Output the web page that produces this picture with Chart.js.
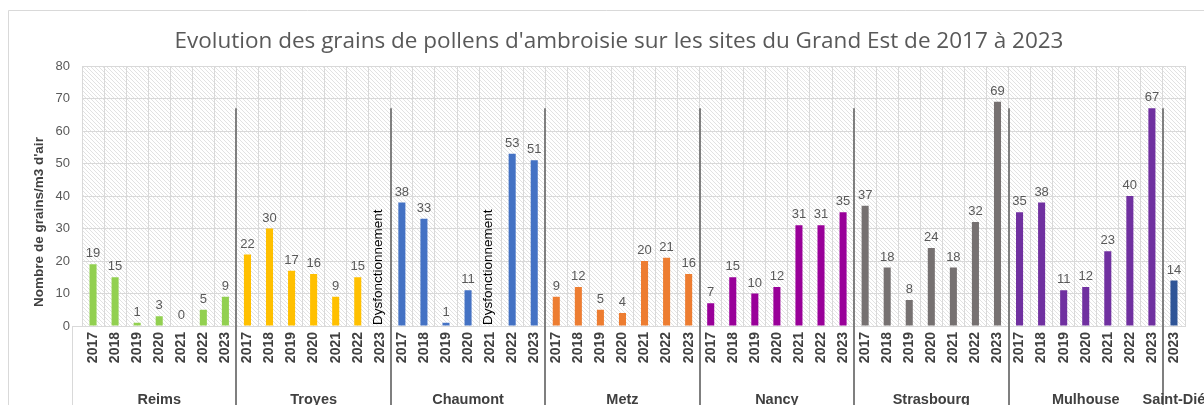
<!DOCTYPE html>
<html>
<head>
<meta charset="utf-8">
<script src="https://cdn.jsdelivr.net/npm/chart.js@4/dist/chart.umd.min.js"></script>
<style>
  html, body { margin: 0; padding: 0; background: #fff; }
  #wrap { width: 1204px; height: 405px; position: relative; }
</style>
</head>
<body>
<div id="wrap"><canvas id="myChart" width="1204" height="405"></canvas></div>
<script>
// Values (null = no measure)
var sites = ['Reims', 'Troyes', 'Chaumont', 'Metz', 'Nancy', 'Strasbourg', 'Mulhouse', 'Saint-Dié'];
var years = ['2017', '2018', '2019', '2020', '2021', '2022', '2023'];
var reims = [19, 15, 1, 3, 0, 5, 9];
var troyes = [22, 30, 17, 16, 9, 15, null];
var chaumont = [38, 33, 1, 11, null, 53, 51];
var metz = [9, 12, 5, 4, 20, 21, 16];
var nancy = [7, 15, 10, 12, 31, 31, 35];
var strasbourg = [37, 18, 8, 24, 18, 32, 69];
var mulhouse = [35, 38, 11, 12, 23, 40, 67];
var saintDieYears = ['2023'];
var saintDie = [14];
var siteColors = ['#92D050', '#FFC000', '#4472C4', '#ED7D31', '#990099', '#767171', '#7030A0', '#2F5597'];
var titleText = "Evolution des grains de pollens d'ambroisie sur les sites du Grand Est de 2017 à 2023";
var yTitle = "Nombre de grains/m3 d'air";

var siteYears = [years, years, years, years, years, years, years, saintDieYears];
var siteValues = [reims, troyes, chaumont, metz, nancy, strasbourg, mulhouse, saintDie];

// flatten to one category axis
var labels = [], values = [], colors = [];
siteValues.forEach(function(vals, s) {
    vals.forEach(function(v, i) {
        labels.push(siteYears[s][i]);
        values.push(v);
        colors.push(siteColors[s]);
    });
});

// hatched background of the plot area
function makeHatch() {
    var c = document.createElement('canvas');
    c.width = 4; c.height = 4;
    var g = c.getContext('2d');
    g.fillStyle = '#ffffff';
    g.fillRect(0, 0, 4, 4);
    g.fillStyle = '#e2e2e2';
    for (var i = 0; i < 4; i++) g.fillRect(i, i, 1, 1);
    return g.createPattern(c, 'repeat');
}

var decor = {
    id: 'decor',
    beforeDraw: function(chart) {
        var ctx = chart.ctx, a = chart.chartArea;
        ctx.save();
        ctx.fillStyle = '#fff';
        ctx.fillRect(0, 0, chart.width, chart.height);
        ctx.fillStyle = makeHatch();
        ctx.fillRect(a.left, a.top, a.right - a.left, a.bottom - a.top);
        // outer frame
        ctx.strokeStyle = '#d9d9d9';
        ctx.lineWidth = 1;
        ctx.beginPath();
        ctx.moveTo(8.5, chart.height);
        ctx.lineTo(8.5, 10.5);
        ctx.lineTo(chart.width, 10.5);
        ctx.stroke();
        // title
        ctx.fillStyle = '#595959';
        ctx.font = '22.5px "Open Sans"';
        ctx.textAlign = 'center';
        ctx.textBaseline = 'middle';
        ctx.fillText(titleText, 619, 42);
        // y axis title
        ctx.translate(39, 222);
        ctx.rotate(-Math.PI / 2);
        ctx.fillStyle = '#404040';
        ctx.font = 'bold 13.5px "Liberation Sans"';
        ctx.fillText(yTitle, 0, 0);
        ctx.restore();
    },
    afterDraw: function(chart) {
        var ctx = chart.ctx, x = chart.scales.x, y = chart.scales.y;
        var meta = chart.getDatasetMeta(0);
        var half = (x.getPixelForValue(1) - x.getPixelForValue(0)) / 2;
        ctx.save();
        // value labels and missing measures
        meta.data.forEach(function(bar, i) {
            var v = values[i];
            if (v === null) {
                ctx.save();
                ctx.translate(bar.x + 5, y.getPixelForValue(0) - 1);
                ctx.rotate(-Math.PI / 2);
                ctx.fillStyle = '#000';
                ctx.font = '13.5px "Liberation Sans"';
                ctx.textAlign = 'left';
                ctx.fillText('Dysfonctionnement', 0, 0);
                ctx.restore();
                return;
            }
            ctx.fillStyle = '#595959';
            ctx.font = '13px "Liberation Sans"';
            ctx.textAlign = 'center';
            ctx.textBaseline = 'bottom';
            ctx.fillText(String(v), bar.x, y.getPixelForValue(v) - 4);
        });
        // site separators and names
        var start = 0;
        ctx.font = 'bold 14.5px "Liberation Sans"';
        ctx.fillStyle = '#404040';
        ctx.textAlign = 'center';
        ctx.textBaseline = 'alphabetic';
        siteValues.forEach(function(vals, s) {
            var x0 = x.getPixelForValue(start) - half;
            var x1 = x.getPixelForValue(start + vals.length - 1) + half;
            ctx.fillText(sites[s], (x0 + x1) / 2, 404);
            if (s < siteValues.length - 1) {
                ctx.strokeStyle = '#7f7f7f';
                ctx.lineWidth = 2;
                ctx.beginPath();
                ctx.moveTo(Math.round(x1), y.getPixelForValue(67));
                ctx.lineTo(Math.round(x1), chart.height);
                ctx.stroke();
            }
            start += vals.length;
        });
        // left border of the label block
        ctx.strokeStyle = '#d9d9d9';
        ctx.lineWidth = 1;
        ctx.beginPath();
        ctx.moveTo(x.left - 9.5, y.bottom);
        ctx.lineTo(x.left - 9.5, chart.height);
        ctx.moveTo(x.left - 10, y.bottom + 0.5);
        ctx.lineTo(x.left, y.bottom + 0.5);
        ctx.stroke();
        ctx.restore();
    }
};

var ctx = document.getElementById('myChart').getContext('2d');
var myChart = new Chart(ctx, {
    type: 'bar',
    data: {
        labels: labels,
        datasets: [{
            data: values,
            backgroundColor: colors,
            barPercentage: 0.32,
            categoryPercentage: 1
        }]
    },
    options: {
        responsive: false,
        animation: false,
        layout: { padding: { left: 32, right: 19, top: 66, bottom: 0 } },
        plugins: {
            legend: { display: false },
            tooltip: { enabled: false },
            title: { display: false }
        },
        scales: {
            x: {
                grid: { color: '#d9d9d9', offset: true, drawTicks: false },
                border: { color: '#d9d9d9' },
                ticks: {
                    autoSkip: false,
                    maxRotation: 90,
                    minRotation: 90,
                    padding: 6,
                    color: '#404040',
                    font: { family: '"Liberation Sans"', size: 14, weight: 'bold' }
                },
                afterFit: function(scale) { scale.height = 79; }
            },
            y: {
                min: 0,
                max: 80,
                grid: { color: '#d9d9d9', drawTicks: false },
                border: { display: false },
                ticks: {
                    stepSize: 10,
                    padding: 12,
                    color: '#595959',
                    font: { family: '"Liberation Sans"', size: 13 }
                },
                afterFit: function(scale) { scale.width = 50; }
            }
        }
    },
    plugins: [decor]
});
</script>
</body>
</html>
